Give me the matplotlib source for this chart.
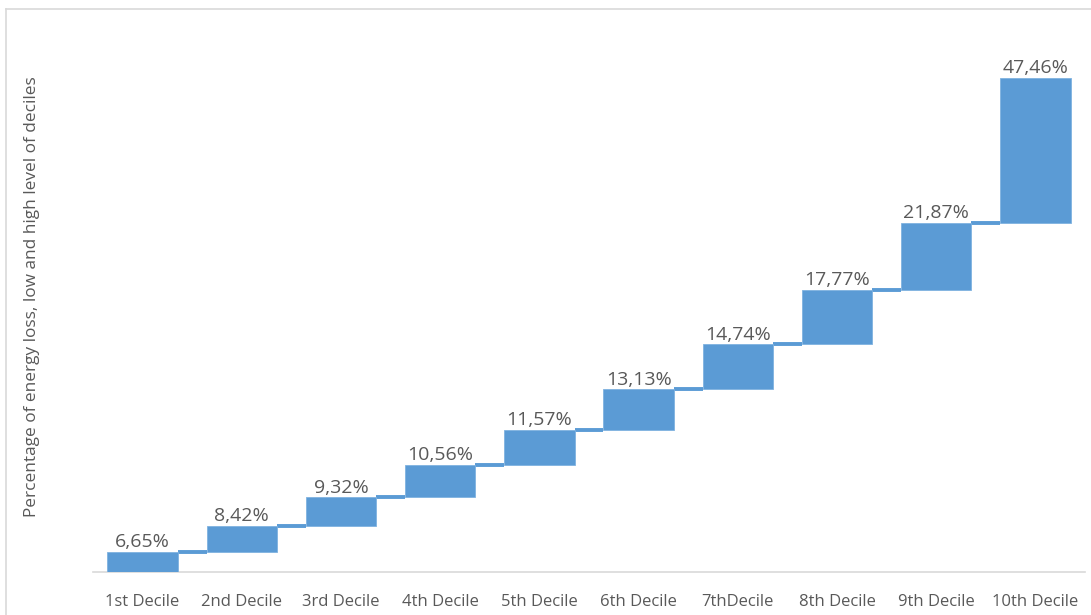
import numpy as np
import matplotlib.pyplot as plt
from matplotlib.lines import Line2D

plt.rcParams['font.family'] = ['Open Sans', 'DejaVu Sans']

deciles = ["1st Decile", "2nd Decile", "3rd Decile", "4th Decile", "5th Decile",
           "6th Decile", "7thDecile", "8th Decile", "9th Decile", "10th Decile"]
values = [6.65, 8.42, 9.32, 10.56, 11.57, 13.13, 14.74, 17.77, 21.87, 47.46]
value_labels = ["6,65%", "8,42%", "9,32%", "10,56%", "11,57%",
                "13,13%", "14,74%", "17,77%", "21,87%", "47,46%"]

blue = "#5B9BD5"
grey_text = "#595959"

fig = plt.figure(figsize=(10.91, 6.15), dpi=100)
ax = fig.add_axes([93 / 1091, 1 - 572 / 615, 992 / 1091, 551 / 615])

x = np.arange(len(deciles))
tops = np.cumsum(values)
bottoms = tops - np.array(values)
width = 0.71

ax.bar(x, values, bottom=bottoms, width=width, color=blue, edgecolor="#7FB2E0", linewidth=0.6, zorder=3)

# connectors between bars (waterfall style)
for i in range(len(x) - 1):
    ax.plot([x[i] + width / 2, x[i + 1] - width / 2], [tops[i], tops[i]],
            color=blue, linewidth=2.8, solid_capstyle="butt", zorder=2)

for xi, top, lab in zip(x, tops, value_labels):
    ax.text(xi, top + 0.2, lab, ha="center", va="bottom", fontsize=14, color=grey_text)

ax.set_xlim(-0.5, len(deciles) - 0.5)
ax.set_ylim(0, 180)
ax.set_xticks(x)
ax.set_xticklabels(deciles, fontsize=12, color=grey_text)
ax.tick_params(axis="x", length=0, pad=16)
ax.set_yticks([])
for side in ["top", "right", "left"]:
    ax.spines[side].set_visible(False)
ax.spines["bottom"].set_color("#D9D9D9")
ax.spines["bottom"].set_linewidth(1.2)

fig.text(32 / 1091, 1 - 297 / 615, "Percentage of energy loss, low and high level of deciles",
         rotation=90, ha="center", va="center", fontsize=12.4, color=grey_text)

# chart area border
fig.add_artist(Line2D([6 / 1091, 1.0], [1 - 9 / 615, 1 - 9 / 615], color="#D9D9D9", linewidth=1.2))
fig.add_artist(Line2D([6 / 1091, 6 / 1091], [0.0, 1 - 9 / 615], color="#D9D9D9", linewidth=1.2))

fig.savefig("out.png", dpi=100)
